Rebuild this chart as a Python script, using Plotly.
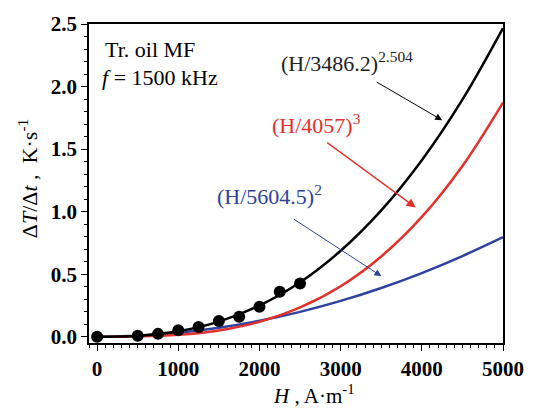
import plotly.graph_objects as go

# Measured data points
H_data = [0, 500, 750, 1000, 1250, 1500, 1750, 2000, 2250, 2500]
dTdt_data = [0.0, 0.008, 0.023, 0.052, 0.078, 0.125, 0.16, 0.24, 0.36, 0.425]

# Fit curves
H_fit = [0, 500, 1000, 1500, 2000, 2500, 3000, 3500, 4000, 4500, 5000]
fit_black = [0.0, 0.0077, 0.0438, 0.121, 0.249, 0.435, 0.687, 1.010, 1.411, 1.895, 2.467]
fit_red = [0.0, 0.0019, 0.0150, 0.0505, 0.1198, 0.234, 0.404, 0.642, 0.958, 1.365, 1.872]
fit_blue = [0.0, 0.0080, 0.0318, 0.0716, 0.1273, 0.199, 0.2865, 0.390, 0.509, 0.645, 0.796]

x_ticks = [0, 1000, 2000, 3000, 4000, 5000]
y_ticks = [0.0, 0.5, 1.0, 1.5, 2.0, 2.5]

BLACK = "#000000"
RED = "#e3302a"
BLUE = "#2e42a0"
FONT = "Liberation Serif, Times New Roman, serif"

fig = go.Figure()
fig.add_trace(go.Scatter(x=H_fit, y=fit_blue, mode="lines", line=dict(color=BLUE, width=2.5, shape="spline"), showlegend=False))
fig.add_trace(go.Scatter(x=H_fit, y=fit_red, mode="lines", line=dict(color=RED, width=2.5, shape="spline"), showlegend=False))
fig.add_trace(go.Scatter(x=H_fit, y=fit_black, mode="lines", line=dict(color=BLACK, width=2.5, shape="spline"), showlegend=False))
fig.add_trace(go.Scatter(x=H_data, y=dTdt_data, mode="markers", marker=dict(color=BLACK, size=12), showlegend=False))

axis_common = dict(
    showgrid=False, zeroline=False, showline=True, linecolor="black", linewidth=1.5,
    mirror=True, ticks="outside", ticklen=6, tickwidth=1.2, tickcolor="black",
    tickfont=dict(family=FONT, size=21, color="black"),
)
fig.update_xaxes(range=[-100, 5000], tickvals=x_ticks, ticktext=[f"<b>{v}</b>" for v in x_ticks],
                 minor=dict(dtick=100, tick0=0, ticklen=3, ticks="outside", tickcolor="black"),
                 **axis_common)
fig.update_yaxes(range=[-0.05, 2.5], tickvals=y_ticks, ticktext=[f"<b>{v:.1f}</b>" for v in y_ticks],
                 minor=dict(dtick=0.1, tick0=0, ticklen=3, ticks="outside", tickcolor="black"),
                 **axis_common)

ann = []
tf = dict(family=FONT, size=22)
ann.append(dict(x=69, y=2.30, xref="x", yref="y", text="Tr. oil MF", showarrow=False, xanchor="left", yanchor="middle", font=dict(tf, color="black")))
ann.append(dict(x=33, y=2.076, xref="x", yref="y", text="<i>f</i> = 1500 kHz", showarrow=False, xanchor="left", yanchor="middle", font=dict(tf, color="black")))
ann.append(dict(x=2245, y=2.20, xref="x", yref="y", text="(H/3486.2)<sup>2.504</sup>", showarrow=False, xanchor="left", yanchor="middle", font=dict(tf, color="#222222")))
ann.append(dict(x=2124, y=1.70, xref="x", yref="y", text="(H/4057)<sup>3</sup>", showarrow=False, xanchor="left", yanchor="middle", font=dict(tf, color=RED)))
ann.append(dict(x=1447, y=1.13, xref="x", yref="y", text="(H/5604.5)<sup>2</sup>", showarrow=False, xanchor="left", yanchor="middle", font=dict(tf, color=BLUE)))
# arrows
ann.append(dict(x=4251, y=1.731, xref="x", yref="y", ax=-67, ay=-39, text="", showarrow=True, arrowhead=2, arrowsize=1.4, arrowwidth=1, arrowcolor=BLACK))
ann.append(dict(x=3925, y=1.033, xref="x", yref="y", ax=-90, ay=-66, text="", showarrow=True, arrowhead=2, arrowsize=1.4, arrowwidth=1.3, arrowcolor=RED))
ann.append(dict(x=3502, y=0.484, xref="x", yref="y", ax=-89, ay=-58, text="", showarrow=True, arrowhead=2, arrowsize=1.4, arrowwidth=1, arrowcolor=BLUE))
# axis titles
ann.append(dict(x=-0.147, y=0.514, xref="paper", yref="paper", text="Δ<i>T</i>/Δ<i>t</i> ,  K·s<sup>-1</sup>", textangle=-90, showarrow=False, xanchor="center", yanchor="middle", font=dict(tf, color="black")))
ann.append(dict(x=0.543, y=-0.162, xref="paper", yref="paper", text="<i>H</i> , A·m<sup>-1</sup>", showarrow=False, xanchor="center", yanchor="middle", font=dict(family=FONT, size=21, color="black")))

fig.update_layout(
    width=536, height=408,
    margin=dict(l=89, r=25, t=18, b=65),
    paper_bgcolor="white", plot_bgcolor="white",
    annotations=ann,
    font=dict(family=FONT, color="black"),
)
fig.write_html("out.html")
